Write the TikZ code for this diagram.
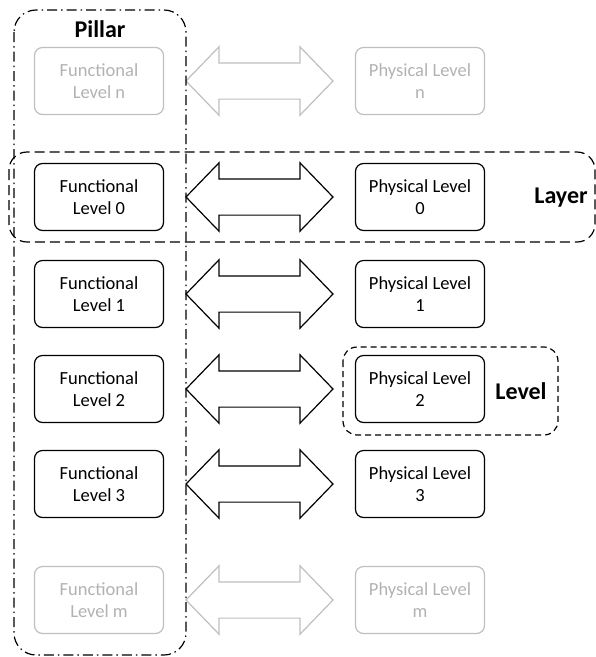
\documentclass[tikz,border=0pt]{standalone}
\usepackage{fontspec}
\setmainfont{Carlito}
\usetikzlibrary{shapes.arrows,calc}

\tikzset{
  lvl/.style={draw, rounded corners=8pt, line width=1.2pt, minimum width=129pt,
    minimum height=67pt, align=center, inner sep=0pt,
    font=\fontsize{18.5}{22.5}\selectfont},
  faded/.style={draw=black!25, text=black!30},
  link/.style={double arrow, draw, line width=1.2pt, minimum height=147pt,
    minimum width=67pt, double arrow head extend=16pt, double arrow tip angle=92,
    inner xsep=0pt, inner ysep=17.5pt},
  tag/.style={font=\fontsize{24}{27}\selectfont\bfseries},
}

\begin{document}
\begin{tikzpicture}[x=1pt,y=-1pt]
\useasboundingbox (0,0) rectangle (596,657);
% functional column
\node[lvl,faded] (fn) at (99,81) {Functional\\Level n};
\node[lvl] (f0) at (99,197) {Functional\\Level 0};
\node[lvl] (f1) at (99,294) {Functional\\Level 1};
\node[lvl] (f2) at (99,389) {Functional\\Level 2};
\node[lvl] (f3) at (99,484) {Functional\\Level 3};
\node[lvl,faded] (fm) at (99,600) {Functional\\Level m};
% physical column
\node[lvl,faded] (pn) at (420,81) {Physical Level\\n};
\node[lvl] (p0) at (420,197) {Physical Level\\0};
\node[lvl] (p1) at (420,294) {Physical Level\\1};
\node[lvl] (p2) at (420,389) {Physical Level\\2};
\node[lvl] (p3) at (420,484) {Physical Level\\3};
\node[lvl,faded] (pm) at (420,600) {Physical Level\\m};
% arrows between the columns
\foreach \i in {0,1,2,3}
  \node[link] (a\i) at ($(f\i.east)!0.5!(p\i.west)$) {};
\node[link,draw=black!25] (an) at ($(fn.east)!0.5!(pn.west)$) {};
\node[link,draw=black!25] (am) at ($(fm.east)!0.5!(pm.west)$) {};
% groupings
\draw[line width=1.2pt, rounded corners=22pt, dash pattern=on 10pt off 4pt on 1.5pt off 4pt]
  (14,10) rectangle (186,655);
\node[tag] (pillar) at (100,29) {Pillar};
\draw[line width=1.2pt, rounded corners=18pt, dash pattern=on 10pt off 5pt]
  (9,152) rectangle (595,242);
\node[tag] (layer) at (561,198) {Layer};
\draw[line width=1.2pt, rounded corners=14pt, dash pattern=on 6pt off 4pt]
  (343,347) rectangle (558,435);
\node[tag] (level) at (521,391) {Level};
\end{tikzpicture}
\end{document}
